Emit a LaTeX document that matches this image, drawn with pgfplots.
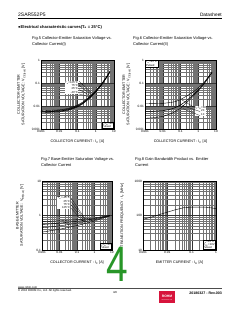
\documentclass[border=0pt]{standalone}
\usepackage{fontspec}
\setmainfont{Liberation Sans}
\usepackage{pgfplots}
\pgfplotsset{compat=1.18}
\definecolor{rohmred}{RGB}{215,20,60}
\definecolor{wgreen}{RGB}{40,150,40}
\pgfplotsset{
 every axis/.append style={
  xmode=log, ymode=log, scale only axis, anchor=south west,
  axis line style={line width=0.45bp},
  grid=both,
  major grid style={line width=0.3bp, draw=black!80},
  minor grid style={line width=0.2bp, draw=black!55},
  major tick length=0pt, minor tick length=0pt,
  tick label style={font=\fontsize{3.2}{3.6}\selectfont, inner sep=1bp},
  /pgf/number format/assume math mode=true,
  every axis label/.append style={font=\fontsize{3.7}{4.3}\selectfont},
  xlabel style={at={(axis description cs:0.5,0)}, anchor=north, yshift=-7bp},
  cycle list={{black, line width=0.55bp, no markers}},
 },
}
\tikzset{ann/.style={font=\fontsize{2.8}{3.2}\selectfont, inner sep=0.5bp}}
\begin{document}
\begin{tikzpicture}[x=1bp,y=-1bp]
\path[use as bounding box, fill=white] (0,0) rectangle (240,310);
% header
\node[anchor=base west, font=\fontsize{5}{6}\selectfont, inner sep=0] at (18,16.5) {2SAR552P5};
\node[anchor=base east, font=\fontsize{4.8}{6}\selectfont, inner sep=0] at (222,16.5) {Datasheet};
\draw[line width=0.4bp] (18,17.8) -- (222,17.8);
\node[anchor=base west, font=\bfseries\fontsize{4.1}{5}\selectfont, inner sep=0] at (18,28) {●Electrical characteristic curves(T\textsubscript{a} = 25°C)};
% figure titles
\node[anchor=base west, font=\fontsize{4}{5.5}\selectfont, inner sep=0, align=left] at (32,45) {Fig.5 Collector-Emitter Saturation Voltage vs.\\Collector Current(I)};
\node[anchor=base west, font=\fontsize{4}{5.5}\selectfont, inner sep=0, align=left] at (133,45) {Fig.6 Collector-Emitter Saturation Voltage vs.\\Collector Current(II)};
\node[anchor=base west, font=\fontsize{4}{5.5}\selectfont, inner sep=0, align=left] at (41,166) {Fig.7 Base-Emitter Saturation Voltage vs.\\Collector Current};
\node[anchor=base west, font=\fontsize{4}{5.5}\selectfont, inner sep=0, align=left] at (135,166) {Fig.8 Gain Bandwidth Product vs. Emitter\\Current};

% ---------- Fig.5
\begin{axis}[at={(41bp,-129bp)}, width=73bp, height=69bp,
 xmin=0.001, xmax=10, ymin=0.001, ymax=1,
 xtick={0.001,0.01,0.1,1,10}, xticklabels={0.001,0.01,0.1,1,10},
 ytick={0.001,0.01,0.1,1}, yticklabels={0.001,0.01,0.1,1},
 minor xtick={0.002,0.003,0.004,0.005,0.006,0.007,0.008,0.009,0.02,0.03,0.04,0.05,0.06,0.07,0.08,0.09,0.2,0.3,0.4,0.5,0.6,0.7,0.8,0.9,2,3,4,5,6,7,8,9},
 minor ytick={0.002,0.003,0.004,0.005,0.006,0.007,0.008,0.009,0.02,0.03,0.04,0.05,0.06,0.07,0.08,0.09,0.2,0.3,0.4,0.5,0.6,0.7,0.8,0.9},
 xlabel={COLLECTOR CURRENT : I\textsubscript{C} [A]},
 ylabel={COLLECTOR-EMITTER\\SATURATION VOLTAGE : V\textsubscript{CE(sat)} [V]},
 ylabel style={align=center, at={(axis description cs:-0.16,0.5)}, anchor=south},
 cycle list={{black, line width=0.75bp, no markers}}]
\addplot coordinates {(0.001,0.0052)(0.003,0.0053)(0.01,0.0056)(0.03,0.0064)(0.1,0.009)(0.2,0.0125)(0.5,0.023)(1,0.04)(2,0.078)(3,0.125)(4,0.175)(6,0.3)};
\addplot coordinates {(0.001,0.0056)(0.003,0.0057)(0.01,0.006)(0.03,0.0068)(0.1,0.0096)(0.2,0.0133)(0.5,0.0243)(1,0.042)(2,0.081)(3,0.13)(4,0.181)(6,0.309)};
\addplot coordinates {(0.001,0.0059)(0.003,0.006)(0.01,0.0064)(0.03,0.0073)(0.1,0.0102)(0.2,0.014)(0.5,0.0256)(1,0.044)(2,0.085)(3,0.135)(4,0.187)(6,0.318)};
\addplot coordinates {(0.001,0.0063)(0.003,0.0065)(0.01,0.0068)(0.03,0.0078)(0.1,0.0109)(0.2,0.015)(0.5,0.027)(1,0.046)(2,0.088)(3,0.139)(4,0.192)(6,0.327)};
\end{axis}
\node[ann, fill=white, anchor=east, align=right] at (78.5,87.3) {T\textsubscript{a}=125°C\\75°C\\25°C\\-40°C};
\draw[line width=0.2bp] (79,81) -- (93,94.5) (79,85.3) -- (92.5,95.5) (79,89.6) -- (92,96.5) (79,93.9) -- (91.5,97.5);
\node[ann, draw, fill=white, anchor=south east, align=left, line width=0.2bp] at (113.6,128.6) {I\textsubscript{C}/I\textsubscript{B}=20\\Pulsed};

% ---------- Fig.6
\begin{axis}[at={(145bp,-129bp)}, width=71bp, height=69bp,
 xmin=0.001, xmax=10, ymin=0.001, ymax=1,
 xtick={0.001,0.01,0.1,1,10}, xticklabels={0.001,0.01,0.1,1,10},
 ytick={0.001,0.01,0.1,1}, yticklabels={0.001,0.01,0.1,1},
 minor xtick={0.002,0.003,0.004,0.005,0.006,0.007,0.008,0.009,0.02,0.03,0.04,0.05,0.06,0.07,0.08,0.09,0.2,0.3,0.4,0.5,0.6,0.7,0.8,0.9,2,3,4,5,6,7,8,9},
 minor ytick={0.002,0.003,0.004,0.005,0.006,0.007,0.008,0.009,0.02,0.03,0.04,0.05,0.06,0.07,0.08,0.09,0.2,0.3,0.4,0.5,0.6,0.7,0.8,0.9},
 xlabel={COLLECTOR CURRENT : I\textsubscript{C} [A]},
 ylabel={COLLECTOR-EMITTER\\SATURATION VOLTAGE : V\textsubscript{CE(sat)} [V]},
 ylabel style={align=center, at={(axis description cs:-0.15,0.5)}, anchor=south}]
\addplot coordinates {(0.001,0.0125)(0.003,0.0127)(0.01,0.013)(0.03,0.0143)(0.05,0.0155)(0.1,0.019)(0.2,0.026)(0.43,0.037)(1,0.06)(2,0.1)(4,0.2)(6,0.3)};
\addplot coordinates {(0.001,0.0058)(0.003,0.0059)(0.01,0.0062)(0.03,0.0074)(0.05,0.0085)(0.1,0.011)(0.2,0.016)(0.5,0.03)(1,0.05)(2,0.09)(4,0.19)(6,0.29)};
\addplot coordinates {(0.001,0.0029)(0.003,0.0031)(0.01,0.0035)(0.03,0.0047)(0.05,0.0057)(0.1,0.008)(0.2,0.013)(0.5,0.026)(1,0.046)(2,0.085)(4,0.18)(6,0.28)};
\end{axis}
\node[ann, draw, fill=white, anchor=north west, align=left, line width=0.2bp] at (145.4,60.4) {T\textsubscript{a}=25°C\\Pulsed};
\node[ann, fill=white, anchor=north west, align=left] at (194.5,106) {I\textsubscript{C}/I\textsubscript{B}=50\\\hspace*{6bp}20\\\hspace*{6bp}10};
\draw[line width=0.2bp] (182,100) -- (194.5,107.5) (182,105.5) -- (200,111.5) (183,108.6) -- (200,115.6);

% ---------- Fig.7
\begin{axis}[at={(42bp,-250bp)}, width=70bp, height=69bp,
 xmin=0.001, xmax=10, ymin=0.1, ymax=10,
 xtick={0.001,0.01,0.1,1,10}, xticklabels={0.001,0.01,0.1,1,10},
 ytick={0.1,1,10}, yticklabels={0.1,1,10},
 minor xtick={0.002,0.003,0.004,0.005,0.006,0.007,0.008,0.009,0.02,0.03,0.04,0.05,0.06,0.07,0.08,0.09,0.2,0.3,0.4,0.5,0.6,0.7,0.8,0.9,2,3,4,5,6,7,8,9},
 minor ytick={0.2,0.3,0.4,0.5,0.6,0.7,0.8,0.9,2,3,4,5,6,7,8,9},
 xlabel={COLLECTOR CURRENT : I\textsubscript{C} [A]},
 ylabel={BASE-EMITTER\\SATURATION VOLTAGE : V\textsubscript{BE(sat)} [V]},
 ylabel style={align=center, at={(axis description cs:-0.2,0.5)}, anchor=south}]
\addplot coordinates {(0.001,0.66)(0.01,0.7)(0.1,0.76)(1,0.85)(3,0.93)(7.5,1.0)};
\addplot coordinates {(0.001,0.55)(0.01,0.6)(0.1,0.68)(1,0.8)(3,0.9)(7.5,0.99)};
\addplot coordinates {(0.001,0.44)(0.01,0.5)(0.1,0.6)(1,0.75)(3,0.87)(7.5,0.98)};
\addplot coordinates {(0.001,0.33)(0.01,0.4)(0.1,0.51)(1,0.69)(3,0.84)(7.5,0.97)};
\end{axis}
\node[ann, fill=white, anchor=east, align=right] at (70.5,202.8) {T\textsubscript{a}=-40°C\\25°C\\75°C\\125°C};
\draw[line width=0.2bp] (71,198) -- (85,218.7) (71,201.4) -- (85,220) (71,204.8) -- (85,221.7) (71,208.2) -- (85,223.4);
\node[ann, draw, fill=white, anchor=south east, align=left, line width=0.2bp] at (111.6,249.6) {I\textsubscript{C}/I\textsubscript{B}=20\\Pulsed};

% ---------- Fig.8
\begin{axis}[at={(143bp,-250bp)}, width=73bp, height=69bp,
 xmin=0.001, xmax=1, ymin=10, ymax=1000,
 xtick={0.001,0.01,0.1,1}, xticklabels={0.001,0.01,0.1,1},
 ytick={10,100,1000}, yticklabels={10,100,1000},
 minor xtick={0.002,0.003,0.004,0.005,0.006,0.007,0.008,0.009,0.02,0.03,0.04,0.05,0.06,0.07,0.08,0.09,0.2,0.3,0.4,0.5,0.6,0.7,0.8,0.9},
 minor ytick={20,30,40,50,60,70,80,90,200,300,400,500,600,700,800,900},
 xlabel={EMITTER CURRENT : I\textsubscript{E} [A]},
 ylabel={TRANSITION FREQUENCY : f\textsubscript{T} [MHz]},
 ylabel style={at={(axis description cs:-0.21,0.5)}, anchor=south}]
\addplot coordinates {(0.001,78)(0.002,88)(0.005,108)(0.01,125)(0.02,145)(0.05,170)(0.1,175)(0.2,175)(0.4,174)(0.7,165)(1,158)};
\end{axis}
\node[ann, draw, fill=white, anchor=south east, align=left, line width=0.2bp] at (215.4,249.4) {T\textsubscript{a}=25°C\\V\textsubscript{CE}=10V\\Pulsed};

% footer
\draw[line width=0.3bp, black!70] (18,288) -- (222,288);
\node[anchor=base west, font=\fontsize{2.8}{3.2}\selectfont, inner sep=0, align=left] at (18,291.5) {www.rohm.com\\© 2018 ROHM Co., Ltd. All rights reserved.};
\node[anchor=base, font=\fontsize{2.8}{3.2}\selectfont, inner sep=0] at (115,293) {4/8};
\fill[rohmred] (159,291) rectangle (175,302.7);
\node[font=\bfseries\fontsize{3.4}{4}\selectfont, text=white, inner sep=0] at (167,296) {ROHM};
\node[font=\fontsize{1.2}{1.4}\selectfont, text=white, inner sep=0] at (167,299.6) {SEMICONDUCTOR};
\node[anchor=base east, font=\bfseries\fontsize{3.6}{4}\selectfont, inner sep=0] at (222,294.5) {20180327 - Rev.003};
% overlay digit
\node[anchor=base, font=\fontsize{50}{50}\selectfont, text=wgreen, inner sep=0, xscale=0.78] at (117.5,281) {4};
\end{tikzpicture}
\end{document}
